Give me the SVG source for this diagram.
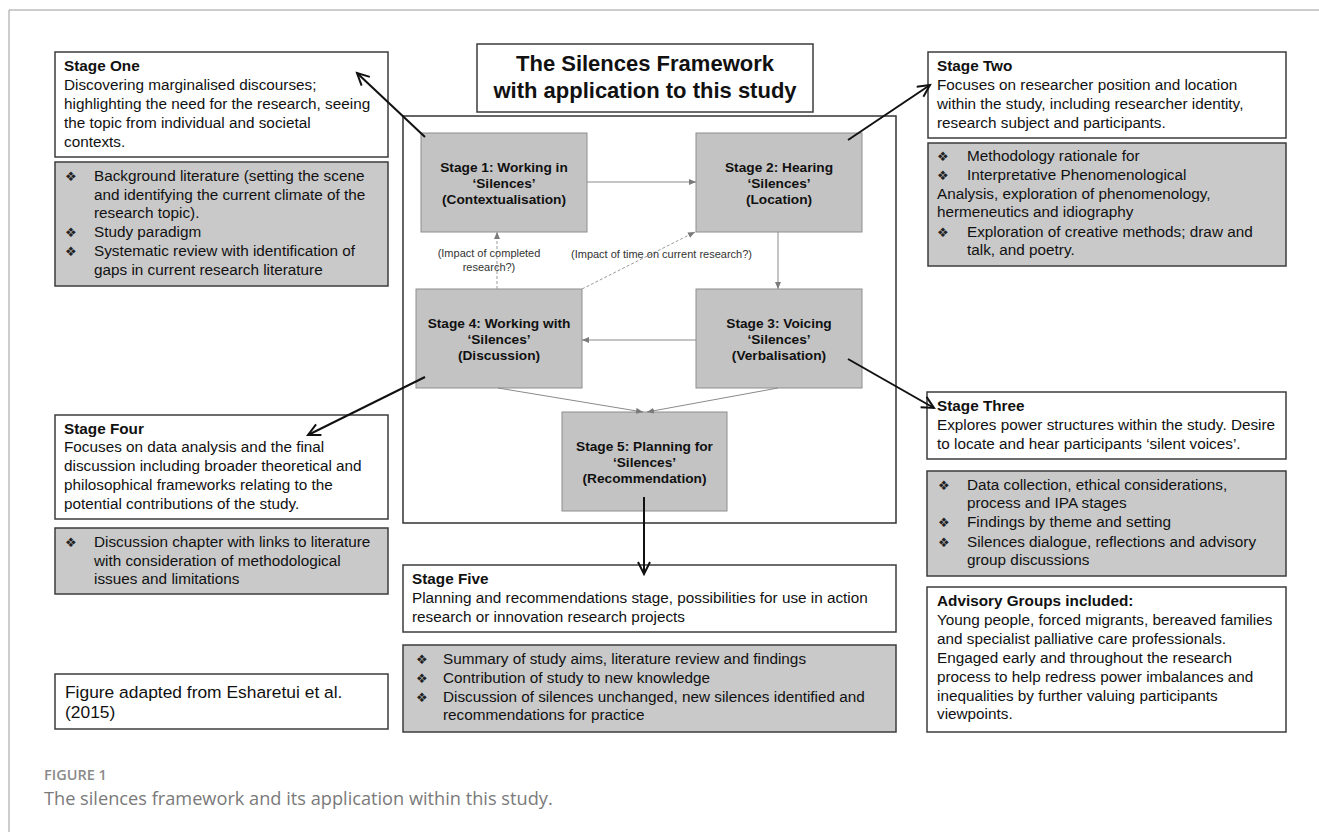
<svg xmlns="http://www.w3.org/2000/svg" width="1319" height="832" viewBox="0 0 1319 832">
<style>
.frame{fill:none;stroke:#9a9a9a;stroke-width:1}
.wbox{fill:#ffffff;stroke:#3c3c3c;stroke-width:1.5}
.gbox{fill:#c9c9c9;stroke:#3c3c3c;stroke-width:1.5}
.node{fill:#c3c3c3;stroke:#8e8e8e;stroke-width:1}
.main{fill:none;stroke:#333333;stroke-width:1.5}
.t{font-family:"Liberation Sans",Arial,sans-serif;font-size:15.3px;fill:#111111}
.b{font-weight:bold}
.bul{font-family:"DejaVu Sans",sans-serif;font-size:13px;fill:#222222}
.nt{font-family:"Liberation Sans",Arial,sans-serif;font-size:13.7px;font-weight:bold;fill:#111111;text-anchor:middle}
.lab{font-family:"Liberation Sans",Arial,sans-serif;font-size:11px;fill:#333333}
.title{font-family:"Liberation Sans",Arial,sans-serif;font-size:22px;font-weight:bold;fill:#111111;text-anchor:middle}
.thin{fill:none;stroke:#8a8a8a;stroke-width:1}
.dash{fill:none;stroke:#9a9a9a;stroke-width:1;stroke-dasharray:3,2}
.thick{fill:none;stroke:#111111;stroke-width:2}
.cap1{font-family:"Open Sans",sans-serif;font-size:14.5px;font-weight:600;fill:#8a8a8a}
.cap2{font-family:"Open Sans",sans-serif;font-size:18.2px;fill:#7a7a7a}
</style>
<defs>
<marker id="sm" markerUnits="userSpaceOnUse" markerWidth="8" markerHeight="6" refX="7" refY="3" orient="auto">
<path d="M0,0 L7,3 L0,6 z" fill="#7a7a7a"/>
</marker>
<marker id="big" markerUnits="userSpaceOnUse" markerWidth="16" markerHeight="16" refX="13" refY="7" orient="auto">
<path d="M1,1 L13,7 L1,13" fill="none" stroke="#111111" stroke-width="2"/>
</marker>
</defs>
<rect width="1319" height="832" fill="#ffffff"/>
<path class="frame" d="M9,832 L9,10 L1319,10"/>

<g id="title">
<rect class="wbox" x="477" y="44" width="336" height="68"/>
<text class="title" x="645" y="71">The Silences Framework</text>
<text class="title" x="645" y="98">with application to this study</text>
</g>

<g id="framework">
<rect class="main" x="403" y="116" width="493" height="407"/>
</g>

<g id="stage1">
<rect class="node" x="421" y="133" width="166" height="99"/>
<text class="nt" x="504" y="172">Stage 1: Working in</text>
<text class="nt" x="504" y="188">‘Silences’</text>
<text class="nt" x="504" y="204">(Contextualisation)</text>
</g>
<g id="stage2">
<rect class="node" x="696" y="133" width="166" height="99"/>
<text class="nt" x="779" y="172">Stage 2: Hearing</text>
<text class="nt" x="779" y="188">‘Silences’</text>
<text class="nt" x="779" y="204">(Location)</text>
</g>
<g id="stage4">
<rect class="node" x="416" y="289" width="166" height="99"/>
<text class="nt" x="499" y="328">Stage 4: Working with</text>
<text class="nt" x="499" y="344">‘Silences’</text>
<text class="nt" x="499" y="360">(Discussion)</text>
</g>
<g id="stage3">
<rect class="node" x="696" y="289" width="166" height="99"/>
<text class="nt" x="779" y="328">Stage 3: Voicing</text>
<text class="nt" x="779" y="344">‘Silences’</text>
<text class="nt" x="779" y="360">(Verbalisation)</text>
</g>
<g id="stage5">
<rect class="node" x="562" y="412" width="165" height="99"/>
<text class="nt" x="644.5" y="451">Stage 5: Planning for</text>
<text class="nt" x="644.5" y="467">‘Silences’</text>
<text class="nt" x="644.5" y="483">(Recommendation)</text>
</g>

<g id="stage-one">
<rect class="wbox" x="55" y="52" width="333" height="105"/>
<text class="t b" x="64" y="71">Stage One</text>
<text class="t" x="64" y="90">Discovering marginalised discourses;</text>
<text class="t" x="64" y="109">highlighting the need for the research, seeing</text>
<text class="t" x="64" y="128">the topic from individual and societal</text>
<text class="t" x="64" y="147">contexts.</text>
</g>
<g id="stage-one-detail">
<rect class="gbox" x="55" y="162" width="333" height="124"/>
<text class="bul" x="65" y="181">❖</text>
<text class="t" x="94" y="181">Background literature (setting the scene</text>
<text class="t" x="94" y="200">and identifying the current climate of the</text>
<text class="t" x="94" y="218">research topic).</text>
<text class="bul" x="65" y="237">❖</text>
<text class="t" x="94" y="237">Study paradigm</text>
<text class="bul" x="65" y="256">❖</text>
<text class="t" x="94" y="256">Systematic review with identification of</text>
<text class="t" x="94" y="275">gaps in current research literature</text>
</g>

<g id="stage-two">
<rect class="wbox" x="928" y="52" width="358" height="86"/>
<text class="t b" x="937" y="71">Stage Two</text>
<text class="t" x="937" y="90">Focuses on researcher position and location</text>
<text class="t" x="937" y="109">within the study, including researcher identity,</text>
<text class="t" x="937" y="128">research subject and participants.</text>
</g>
<g id="stage-two-detail">
<rect class="gbox" x="928" y="143" width="358" height="123"/>
<text class="bul" x="937" y="161">❖</text>
<text class="t" x="967" y="161">Methodology rationale for</text>
<text class="bul" x="937" y="180">❖</text>
<text class="t" x="967" y="180">Interpretative Phenomenological</text>
<text class="t" x="937" y="199">Analysis, exploration of phenomenology,</text>
<text class="t" x="937" y="217">hermeneutics and idiography</text>
<text class="bul" x="937" y="237">❖</text>
<text class="t" x="967" y="237">Exploration of creative methods; draw and</text>
<text class="t" x="967" y="255">talk, and poetry.</text>
</g>

<g id="stage-four">
<rect class="wbox" x="55" y="415" width="333" height="104"/>
<text class="t b" x="64" y="434">Stage Four</text>
<text class="t" x="64" y="452">Focuses on data analysis and the final</text>
<text class="t" x="64" y="471">discussion including broader theoretical and</text>
<text class="t" x="64" y="490">philosophical frameworks relating to the</text>
<text class="t" x="64" y="509">potential contributions of the study.</text>
</g>
<g id="stage-four-detail">
<rect class="gbox" x="55" y="528" width="333" height="66"/>
<text class="bul" x="65" y="547">❖</text>
<text class="t" x="94" y="547">Discussion chapter with links to literature</text>
<text class="t" x="94" y="566">with consideration of methodological</text>
<text class="t" x="94" y="584">issues and limitations</text>
</g>

<g id="stage-three">
<rect class="wbox" x="927" y="392" width="359" height="67"/>
<text class="t b" x="937" y="411">Stage Three</text>
<text class="t" x="937" y="430">Explores power structures within the study. Desire</text>
<text class="t" x="937" y="449">to locate and hear participants ‘silent voices’.</text>
</g>
<g id="stage-three-detail">
<rect class="gbox" x="927" y="471" width="359" height="105"/>
<text class="bul" x="938" y="490">❖</text>
<text class="t" x="967" y="490">Data collection, ethical considerations,</text>
<text class="t" x="967" y="508">process and IPA stages</text>
<text class="bul" x="938" y="527">❖</text>
<text class="t" x="967" y="527">Findings by theme and setting</text>
<text class="bul" x="938" y="547">❖</text>
<text class="t" x="967" y="547">Silences dialogue, reflections and advisory</text>
<text class="t" x="967" y="565">group discussions</text>
</g>

<g id="advisory">
<rect class="wbox" x="927" y="587" width="359" height="145"/>
<text class="t b" x="937" y="606">Advisory Groups included:</text>
<text class="t" x="937" y="625">Young people, forced migrants, bereaved families</text>
<text class="t" x="937" y="644">and specialist palliative care professionals.</text>
<text class="t" x="937" y="663">Engaged early and throughout the research</text>
<text class="t" x="937" y="682">process to help redress power imbalances and</text>
<text class="t" x="937" y="701">inequalities by further valuing participants</text>
<text class="t" x="937" y="719">viewpoints.</text>
</g>

<g id="stage-five">
<rect class="wbox" x="403" y="565" width="493" height="67"/>
<text class="t b" x="412" y="584">Stage Five</text>
<text class="t" x="412" y="603">Planning and recommendations stage, possibilities for use in action</text>
<text class="t" x="412" y="622">research or innovation research projects</text>
</g>
<g id="stage-five-detail">
<rect class="gbox" x="403" y="645" width="493" height="87"/>
<text class="bul" x="416" y="664">❖</text>
<text class="t" x="443" y="664">Summary of study aims, literature review and findings</text>
<text class="bul" x="416" y="683">❖</text>
<text class="t" x="443" y="683">Contribution of study to new knowledge</text>
<text class="bul" x="416" y="702">❖</text>
<text class="t" x="443" y="702">Discussion of silences unchanged, new silences identified and</text>
<text class="t" x="443" y="720">recommendations for practice</text>
</g>

<g id="source">
<rect class="wbox" x="55" y="674" width="333" height="55"/>
<text class="t" x="65" y="698" style="font-size:17.4px">Figure adapted from Esharetui et al.</text>
<text class="t" x="65" y="718" style="font-size:17.4px">(2015)</text>
</g>

<g id="connectors">
<line class="thin" x1="587" y1="182" x2="696" y2="182" marker-end="url(#sm)"/>
<line class="thin" x1="778" y1="232" x2="778" y2="289" marker-end="url(#sm)"/>
<line class="thin" x1="696" y1="340" x2="582" y2="340" marker-end="url(#sm)"/>
<line class="thin" x1="498" y1="388" x2="643" y2="412" marker-end="url(#sm)"/>
<line class="thin" x1="778" y1="388" x2="647" y2="412" marker-end="url(#sm)"/>
<line class="dash" x1="497" y1="289" x2="497" y2="232" marker-end="url(#sm)"/>
<line class="dash" x1="582" y1="289" x2="695" y2="232" marker-end="url(#sm)"/>
<text class="lab" x="489" y="257" text-anchor="middle">(Impact of completed</text>
<text class="lab" x="489" y="271" text-anchor="middle">research?)</text>
<text class="lab" x="571" y="258">(Impact of time on current research?)</text>
<line class="thick" x1="425" y1="137" x2="357" y2="73" marker-end="url(#big)"/>
<line class="thick" x1="848" y1="140" x2="930" y2="85" marker-end="url(#big)"/>
<line class="thick" x1="425" y1="377" x2="308" y2="435" marker-end="url(#big)"/>
<line class="thick" x1="848" y1="359" x2="934" y2="408" marker-end="url(#big)"/>
<line class="thick" x1="644" y1="497" x2="644" y2="574" marker-end="url(#big)"/>
</g>

<g id="caption">
<text class="cap1" x="44" y="780">FIGURE 1</text>
<text class="cap2" x="44" y="805">The silences framework and its application within this study.</text>
</g>
</svg>
